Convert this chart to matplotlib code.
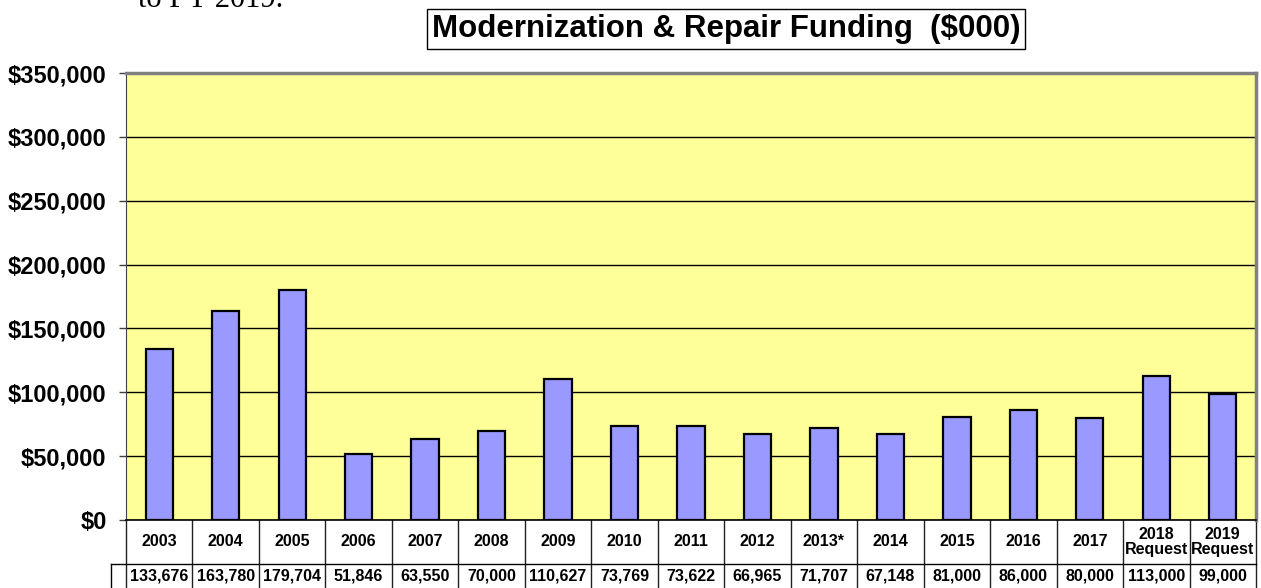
import numpy as np
import matplotlib.pyplot as plt
from matplotlib.transforms import blended_transform_factory

# data ($000)
years = ['2003', '2004', '2005', '2006', '2007', '2008', '2009', '2010', '2011',
         '2012', '2013*', '2014', '2015', '2016', '2017',
         '2018\nRequest', '2019\nRequest']
funding = [133676, 163780, 179704, 51846, 63550, 70000, 110627, 73769, 73622,
           66965, 71707, 67148, 81000, 86000, 80000, 113000, 99000]
yticks = np.arange(0, 350001, 50000)

plt.rcParams['font.family'] = ['Liberation Sans', 'DejaVu Sans']

fig = plt.figure(figsize=(12.61, 5.88), dpi=100)
ax = fig.add_axes([126 / 1261, 1 - 520 / 588, 1130 / 1261, 447 / 588])
ax.set_facecolor('#FFFF99')

x = np.arange(len(funding))
ax.bar(x, funding, width=0.41, color='#9999FF', edgecolor='black', linewidth=1.6, zorder=3)

ax.set_xlim(-0.5, len(funding) - 0.5)
ax.set_ylim(0, 350000)
ax.set_yticks(yticks)
ax.set_yticklabels([f'${v:,.0f}' for v in yticks], fontsize=17, fontweight='bold')
ax.tick_params(axis='y', length=5, width=1, color='#404040', pad=9)
ax.set_xticks([])
ax.grid(axis='y', color='black', linewidth=1, zorder=1)
ax.set_axisbelow(True)

for side in ['top', 'right']:
    ax.spines[side].set_color('#808080')
    ax.spines[side].set_linewidth(2.5)
ax.spines['left'].set_color('#404040')
ax.spines['bottom'].set_color('black')
ax.spines['bottom'].set_linewidth(1.2)

# data table under the bars
tr = blended_transform_factory(ax.transData, ax.transAxes)
row1_bot = -44 / 447
row2_bot = -0.2
key_left = -0.5 - 15 / 66.5
for i in range(len(funding) + 1):
    ax.plot([i - 0.5, i - 0.5], [0, row2_bot], transform=tr, color='#202020',
            lw=1, clip_on=False)
ax.plot([key_left, key_left], [row1_bot, row2_bot], transform=tr, color='black',
        lw=1, clip_on=False)
ax.plot([key_left, len(funding) - 0.5], [row1_bot, row1_bot], transform=tr,
        color='black', lw=1, clip_on=False)
for i, (lab, v) in enumerate(zip(years, funding)):
    ax.text(i, row1_bot / 2, lab, transform=tr, ha='center', va='center',
            fontsize=11.5, fontweight='bold', linespacing=1.0)
    ax.text(i, -0.126, f'{v:,}', transform=tr, ha='center', va='center',
            fontsize=11.5, fontweight='bold')

# title in a box
fig.text(726 / 1261, 1 - 29 / 588, 'Modernization & Repair Funding  ($000)',
         ha='center', va='center', fontsize=22.5, fontweight='bold',
         bbox=dict(boxstyle='square,pad=0.15', facecolor='white',
                   edgecolor='black', linewidth=1))

# leftover line of the surrounding document, cut off at the top
fig.text(138 / 1261, 1 - 7 / 588, 'to FY 2019.', ha='left', va='baseline',
         fontsize=22, family=['Liberation Serif', 'DejaVu Serif'])

fig.savefig('out.png', dpi=100)
